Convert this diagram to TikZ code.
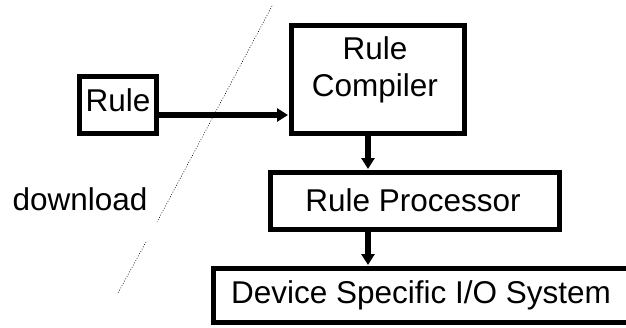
\documentclass[tikz,border=0pt]{standalone}
\usepackage{fontspec}
\setmainfont{Liberation Sans}
\usetikzlibrary{%
	arrows.meta,%
	calc
}

\tikzset{
	blk/.style={draw,line width=5pt,inner sep=0pt},
	lbl/.style={inner sep=0pt,align=center,font=\fontsize{31.5}{37}\selectfont},
	flow/.style={line width=5.5pt,-{Triangle[length=11pt,width=13pt]},shorten >=1pt},
	cut/.style={dotted,line width=0.6pt,line cap=round}
}

\begin{document}
\begin{tikzpicture}[x=1pt,y=-1pt]
	\useasboundingbox (0,0) rectangle (626,327);
	% boxes
	\node[blk,minimum width=77pt,minimum height=57pt] (rule) at (118,105) {};
	\node[lbl] (ruletxt) at (118,100) {Rule};
	\node[blk,minimum width=173pt,minimum height=108pt] (comp) at (378,79.5) {};
	\node[lbl] (comptxt) at (375,70) {Rule\\Compiler};
	\node[blk,minimum width=289pt,minimum height=57pt] (proc) at (415,201) {};
	\node[lbl] (proctxt) at (413,200) {Rule Processor};
	\node[blk,minimum width=418pt,minimum height=54pt] (dev) at (422,295.5) {};
	\node[lbl] (devtxt) at (421,295) {Device Specific I/O System};
	\node[lbl] (down) at (80,199) {download};
	% arrows
	\coordinate (row) at (0,115);
	\coordinate (col) at (368,0);
	\draw[flow] (rule.east |- row) -- (comp.west |- row);
	\draw[flow] (comp.south -| col) -- (proc.north -| col);
	\draw[flow] (proc.south -| col) -- (dev.north -| col);
	% the dotted cut, broken behind the label
	\coordinate (c1) at (272,6);
	\coordinate (c2) at (157,222);
	\coordinate (c3) at (146,242);
	\coordinate (c4) at (118,293);
	\draw[cut] (c1) -- (c2);
	\draw[cut] (c3) -- (c4);
\end{tikzpicture}
\end{document}
